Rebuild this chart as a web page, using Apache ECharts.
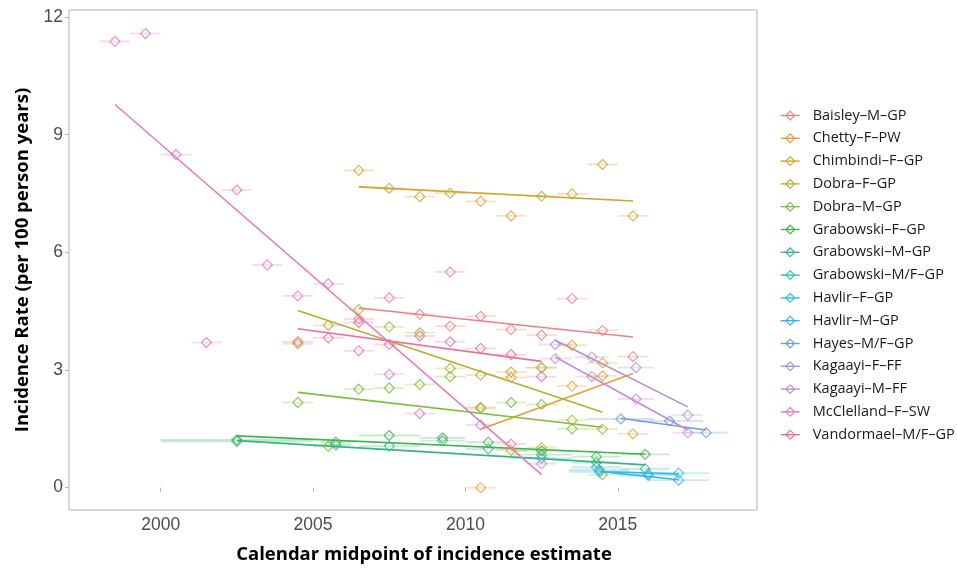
<!DOCTYPE html>
<html>
<head>
<meta charset="utf-8">
<script src="https://cdn.jsdelivr.net/npm/echarts@6/dist/echarts.min.js"></script>
<style>
  html, body { margin: 0; padding: 0; background: #ffffff; }
  #chart { width: 957px; height: 569px; }
</style>
</head>
<body>
<div id="chart"></div>
<script>
// Axis ticks
const yearTicks = [2000, 2005, 2010, 2015];
const rateTicks = [0, 3, 6, 9, 12];

// Baisley–M–GP
const baisleyYear = [2006.5, 2007.5, 2008.5, 2009.5, 2010.5, 2011.5, 2012.5, 2013.5, 2014.5, 2015.5];
const baisleyRate = [4.30, 4.84, 4.42, 4.12, 4.37, 4.03, 3.89, 4.82, 4.01, 3.34];
const baisleyLo = [2006, 2007, 2008, 2009, 2010, 2011, 2012, 2013, 2014, 2015];
const baisleyHi = [2007, 2008, 2009, 2010, 2011, 2012, 2013, 2014, 2015, 2016];
const baisleyFitYear = [2006.5, 2015.5];
const baisleyFitRate = [4.58, 3.84];

// Chetty–F–PW
const chettyYear = [2010.5, 2010.5, 2011.5, 2011.5, 2012.5, 2012.5, 2013.5, 2013.5, 2014.5, 2014.5, 2015.5];
const chettyRate = [2.05, 0.00, 2.81, 0.95, 3.06, 1.02, 3.63, 2.59, 3.18, 2.85, 1.37];
const chettyLo = [2010, 2010, 2011, 2011, 2012, 2012, 2013, 2013, 2014, 2014, 2015];
const chettyHi = [2011, 2011, 2012, 2012, 2013, 2013, 2014, 2014, 2015, 2015, 2016];
const chettyFitYear = [2010.5, 2015.5];
const chettyFitRate = [1.49, 2.91];

// Chimbindi–F–GP
const chimbindiYear = [2006.5, 2007.5, 2008.5, 2009.5, 2010.5, 2011.5, 2012.5, 2013.5, 2014.5, 2015.5];
const chimbindiRate = [8.09, 7.63, 7.42, 7.51, 7.30, 6.93, 7.43, 7.49, 8.24, 6.93];
const chimbindiLo = [2006, 2007, 2008, 2009, 2010, 2011, 2012, 2013, 2014, 2015];
const chimbindiHi = [2007, 2008, 2009, 2010, 2011, 2012, 2013, 2014, 2015, 2016];
const chimbindiFitYear = [2006.5, 2015.5];
const chimbindiFitRate = [7.67, 7.31];

// Dobra–F–GP
const dobraFYear = [2004.5, 2005.5, 2006.5, 2007.5, 2008.5, 2009.5, 2010.5, 2011.5, 2012.5, 2013.5, 2014.5];
const dobraFRate = [3.67, 4.14, 4.54, 4.10, 3.95, 3.04, 2.87, 2.95, 3.06, 1.72, 1.49];
const dobraFLo = [2004, 2005, 2006, 2007, 2008, 2009, 2010, 2011, 2012, 2013, 2014];
const dobraFHi = [2005, 2006, 2007, 2008, 2009, 2010, 2011, 2012, 2013, 2014, 2015];
const dobraFFitYear = [2004.5, 2014.5];
const dobraFFitRate = [4.52, 1.92];

// Dobra–M–GP
const dobraMYear = [2004.5, 2005.5, 2006.5, 2007.5, 2008.5, 2009.5, 2010.5, 2011.5, 2012.5, 2013.5, 2014.5];
const dobraMRate = [2.17, 1.05, 2.51, 2.54, 2.63, 2.83, 2.02, 2.17, 2.12, 1.50, 0.33];
const dobraMLo = [2004, 2005, 2006, 2007, 2008, 2009, 2010, 2011, 2012, 2013, 2014];
const dobraMHi = [2005, 2006, 2007, 2008, 2009, 2010, 2011, 2012, 2013, 2014, 2015];
const dobraMFitYear = [2004.5, 2014.5];
const dobraMFitRate = [2.43, 1.54];

// Grabowski–F–GP
const grabFYear = [2002.5, 2005.75, 2007.5, 2009.25, 2010.75, 2012.5, 2014.3, 2015.9];
const grabFRate = [1.22, 1.16, 1.33, 1.27, 1.16, 0.94, 0.79, 0.85];
const grabFLo = [2000.0, 2005.25, 2006.5, 2008.5, 2010.0, 2011.5, 2013.5, 2015.1];
const grabFHi = [2005.0, 2006.25, 2008.5, 2010.0, 2011.5, 2013.5, 2015.1, 2016.7];
const grabFFitYear = [2002.5, 2015.9];
const grabFFitRate = [1.32, 0.85];

// Grabowski–M–GP
const grabMYear = [2002.5, 2005.75, 2007.5, 2009.25, 2010.75, 2012.5, 2014.3, 2015.9];
const grabMRate = [1.18, 1.09, 1.06, 1.20, 0.99, 0.84, 0.64, 0.48];
const grabMLo = [2000.0, 2005.25, 2006.5, 2008.5, 2010.0, 2011.5, 2013.5, 2015.1];
const grabMHi = [2005.0, 2006.25, 2008.5, 2010.0, 2011.5, 2013.5, 2015.1, 2016.7];
const grabMFitYear = [2002.5, 2015.9];
const grabMFitRate = [1.20, 0.58];

// Grabowski–M/F–GP
const grabMFYear = [2012.5, 2014.3];
const grabMFRate = [0.75, 0.52];
const grabMFLo = [2011.5, 2013.5];
const grabMFHi = [2013.5, 2015.1];
const grabMFFitYear = [];
const grabMFFitRate = [];

// Havlir–F–GP
const havlirFYear = [2014.4, 2016.0, 2017.0];
const havlirFRate = [0.45, 0.35, 0.37];
const havlirFLo = [2013.4, 2015.0, 2016.0];
const havlirFHi = [2015.4, 2017.0, 2018.0];
const havlirFFitYear = [2014.4, 2017.0];
const havlirFFitRate = [0.41, 0.35];

// Havlir–M–GP
const havlirMYear = [2014.4, 2016.0, 2017.0];
const havlirMRate = [0.40, 0.31, 0.19];
const havlirMLo = [2013.4, 2015.0, 2016.0];
const havlirMHi = [2015.4, 2017.0, 2018.0];
const havlirMFitYear = [2014.4, 2017.0];
const havlirMFitRate = [0.41, 0.20];

// Hayes–M/F–GP
const hayesYear = [2015.1, 2016.7, 2017.9];
const hayesRate = [1.75, 1.70, 1.40];
const hayesLo = [2014.0, 2015.6, 2017.2];
const hayesHi = [2016.2, 2017.8, 2018.6];
const hayesFitYear = [2015.1, 2017.9];
const hayesFitRate = [1.77, 1.47];

// Kagaayi–F–FF
const kagaayiFYear = [2012.95, 2014.15, 2015.6, 2017.3];
const kagaayiFRate = [3.65, 3.33, 3.06, 1.85];
const kagaayiFLo = [2012.4, 2013.6, 2015.0, 2016.8];
const kagaayiFHi = [2013.5, 2014.7, 2016.2, 2017.8];
const kagaayiFFitYear = [2012.95, 2017.3];
const kagaayiFFitRate = [3.76, 2.06];

// Kagaayi–M–FF
const kagaayiMYear = [2012.95, 2014.15, 2015.6, 2017.3];
const kagaayiMRate = [3.29, 2.83, 2.26, 1.40];
const kagaayiMLo = [2012.4, 2013.6, 2015.0, 2016.8];
const kagaayiMHi = [2013.5, 2014.7, 2016.2, 2017.8];
const kagaayiMFitYear = [2012.95, 2017.3];
const kagaayiMFitRate = [3.33, 1.47];

// McClelland–F–SW
const mcclellandYear = [1998.5, 1999.5, 2000.5, 2001.5, 2002.5, 2003.5, 2004.5, 2005.5, 2006.5, 2007.5, 2008.5, 2009.5, 2010.5, 2011.5, 2012.5];
const mcclellandRate = [11.38, 11.58, 8.49, 3.70, 7.59, 5.68, 4.89, 5.20, 3.49, 2.89, 1.89, 5.50, 1.60, 1.11, 0.61];
const mcclellandLo = [1998, 1999, 2000, 2001, 2002, 2003, 2004, 2005, 2006, 2007, 2008, 2009, 2010, 2011, 2012];
const mcclellandHi = [1999, 2000, 2001, 2002, 2003, 2004, 2005, 2006, 2007, 2008, 2009, 2010, 2011, 2012, 2013];
const mcclellandFitYear = [1998.5, 2012.5];
const mcclellandFitRate = [9.77, 0.33];

// Vandormael–M/F–GP
const vandormaelYear = [2004.5, 2005.5, 2006.5, 2007.5, 2008.5, 2009.5, 2010.5, 2011.5, 2012.5];
const vandormaelRate = [3.72, 3.82, 4.21, 3.65, 3.87, 3.72, 3.55, 3.39, 2.83];
const vandormaelLo = [2004, 2005, 2006, 2007, 2008, 2009, 2010, 2011, 2012];
const vandormaelHi = [2005, 2006, 2007, 2008, 2009, 2010, 2011, 2012, 2013];
const vandormaelFitYear = [2004.5, 2012.5];
const vandormaelFitRate = [4.05, 3.22];

const studies = [
  { name: 'Baisley–M–GP', color: '#F08080', year: baisleyYear, rate: baisleyRate, lo: baisleyLo, hi: baisleyHi, fx: baisleyFitYear, fy: baisleyFitRate },
  { name: 'Chetty–F–PW', color: '#F09A30', year: chettyYear, rate: chettyRate, lo: chettyLo, hi: chettyHi, fx: chettyFitYear, fy: chettyFitRate },
  { name: 'Chimbindi–F–GP', color: '#D2A22A', year: chimbindiYear, rate: chimbindiRate, lo: chimbindiLo, hi: chimbindiHi, fx: chimbindiFitYear, fy: chimbindiFitRate },
  { name: 'Dobra–F–GP', color: '#B0B232', year: dobraFYear, rate: dobraFRate, lo: dobraFLo, hi: dobraFHi, fx: dobraFFitYear, fy: dobraFFitRate },
  { name: 'Dobra–M–GP', color: '#7FBE3E', year: dobraMYear, rate: dobraMRate, lo: dobraMLo, hi: dobraMHi, fx: dobraMFitYear, fy: dobraMFitRate },
  { name: 'Grabowski–F–GP', color: '#3DB54A', year: grabFYear, rate: grabFRate, lo: grabFLo, hi: grabFHi, fx: grabFFitYear, fy: grabFFitRate },
  { name: 'Grabowski–M–GP', color: '#34B584', year: grabMYear, rate: grabMRate, lo: grabMLo, hi: grabMHi, fx: grabMFitYear, fy: grabMFitRate },
  { name: 'Grabowski–M/F–GP', color: '#30BFB0', year: grabMFYear, rate: grabMFRate, lo: grabMFLo, hi: grabMFHi, fx: grabMFFitYear, fy: grabMFFitRate },
  { name: 'Havlir–F–GP', color: '#2DBDE0', year: havlirFYear, rate: havlirFRate, lo: havlirFLo, hi: havlirFHi, fx: havlirFFitYear, fy: havlirFFitRate },
  { name: 'Havlir–M–GP', color: '#3AAEEB', year: havlirMYear, rate: havlirMRate, lo: havlirMLo, hi: havlirMHi, fx: havlirMFitYear, fy: havlirMFitRate },
  { name: 'Hayes–M/F–GP', color: '#6F9BDB', year: hayesYear, rate: hayesRate, lo: hayesLo, hi: hayesHi, fx: hayesFitYear, fy: hayesFitRate },
  { name: 'Kagaayi–F–FF', color: '#AB92D6', year: kagaayiFYear, rate: kagaayiFRate, lo: kagaayiFLo, hi: kagaayiFHi, fx: kagaayiFFitYear, fy: kagaayiFFitRate },
  { name: 'Kagaayi–M–FF', color: '#C98BCF', year: kagaayiMYear, rate: kagaayiMRate, lo: kagaayiMLo, hi: kagaayiMHi, fx: kagaayiMFitYear, fy: kagaayiMFitRate },
  { name: 'McClelland–F–SW', color: '#E07DBE', year: mcclellandYear, rate: mcclellandRate, lo: mcclellandLo, hi: mcclellandHi, fx: mcclellandFitYear, fy: mcclellandFitRate },
  { name: 'Vandormael–M/F–GP', color: '#F06C9E', year: vandormaelYear, rate: vandormaelRate, lo: vandormaelLo, hi: vandormaelHi, fx: vandormaelFitYear, fy: vandormaelFitRate }
];

const series = [];
studies.forEach(function (s) {
  // fitted trend (first, so the legend key shows a line with a diamond)
  series.push({
    name: s.name,
    type: 'line',
    data: s.fx.map(function (x, i) { return [x, s.fy[i]]; }),
    symbol: 'diamond',
    symbolSize: 9,
    showSymbol: false,
    lineStyle: { color: s.color, width: 1.6 },
    itemStyle: { color: s.color },
    z: 3,
    silent: true
  });
  // horizontal interval bars
  series.push({
    name: s.name,
    type: 'custom',
    data: s.year.map(function (x, i) { return [s.lo[i], s.hi[i], s.rate[i]]; }),
    encode: { x: [0, 1], y: 2 },
    renderItem: function (params, api) {
      const a = api.coord([api.value(0), api.value(2)]);
      const b = api.coord([api.value(1), api.value(2)]);
      return {
        type: 'line',
        shape: { x1: a[0], y1: a[1], x2: b[0], y2: b[1] },
        style: { stroke: s.color, lineWidth: 1.8, opacity: 0.28 }
      };
    },
    z: 1,
    silent: true
  });
  // point estimates
  series.push({
    name: s.name,
    type: 'scatter',
    data: s.year.map(function (x, i) { return [x, s.rate[i]]; }),
    symbol: 'diamond',
    symbolSize: 10,
    itemStyle: { color: 'rgba(255,255,255,0)', borderColor: s.color, borderWidth: 1.2 },
    z: 4,
    silent: true
  });
});

const labelFont = 'Liberation Sans, Arial, sans-serif';
const titleFont = 'Open Sans, Noto Sans, sans-serif';

const chart = echarts.init(document.getElementById('chart'), null, { renderer: 'canvas' });
chart.setOption({
  animation: false,
  backgroundColor: '#ffffff',
  grid: { left: 69, right: 200, top: 10, bottom: 57, show: true, borderColor: '#b3b3b3', borderWidth: 1, backgroundColor: '#ffffff' },
  xAxis: {
    type: 'value',
    min: 1996.99,
    max: 2019.57,
    axisLine: { show: false },
    splitLine: { show: false },
    axisTick: { show: true, customValues: yearTicks, length: 4, lineStyle: { color: '#b3b3b3' } },
    axisLabel: { customValues: yearTicks, color: '#4d4d4d', fontSize: 17.5, margin: 6, fontFamily: labelFont, formatter: function (v) { return String(v); } },
    name: 'Calendar midpoint of incidence estimate',
    nameLocation: 'middle',
    nameGap: 35,
    nameTextStyle: { color: '#000000', fontSize: 18.5, fontWeight: 'bold', fontFamily: titleFont, padding: [0, 0, 0, 22] }
  },
  yAxis: {
    type: 'value',
    min: -0.57,
    max: 12.18,
    axisLine: { show: false },
    splitLine: { show: false },
    axisTick: { show: true, customValues: rateTicks, length: 4, lineStyle: { color: '#b3b3b3' } },
    axisLabel: { customValues: rateTicks, color: '#4d4d4d', fontSize: 17.5, margin: 6, fontFamily: labelFont, formatter: function (v) { return String(v); } },
    name: 'Incidence Rate (per 100 person years)',
    nameLocation: 'middle',
    nameGap: 26,
    nameTextStyle: { color: '#000000', fontSize: 18.5, fontWeight: 'bold', fontFamily: titleFont }
  },
  legend: {
    orient: 'vertical',
    left: 780,
    top: 108,
    padding: 0,
    itemWidth: 19,
    itemHeight: 11,
    itemGap: 7.8,
    data: studies.map(function (s) {
      return {
        name: s.name,
        itemStyle: { color: 'rgba(255,255,255,0)', borderColor: s.color, borderWidth: 1.1 },
        lineStyle: { color: s.color, width: 1.4 }
      };
    }),
    textStyle: { color: '#1a1a1a', fontSize: 14.5, lineHeight: 14, fontFamily: titleFont, padding: [0, 0, 0, 8] },
    selectedMode: false
  },
  series: series
});
</script>
</body>
</html>
